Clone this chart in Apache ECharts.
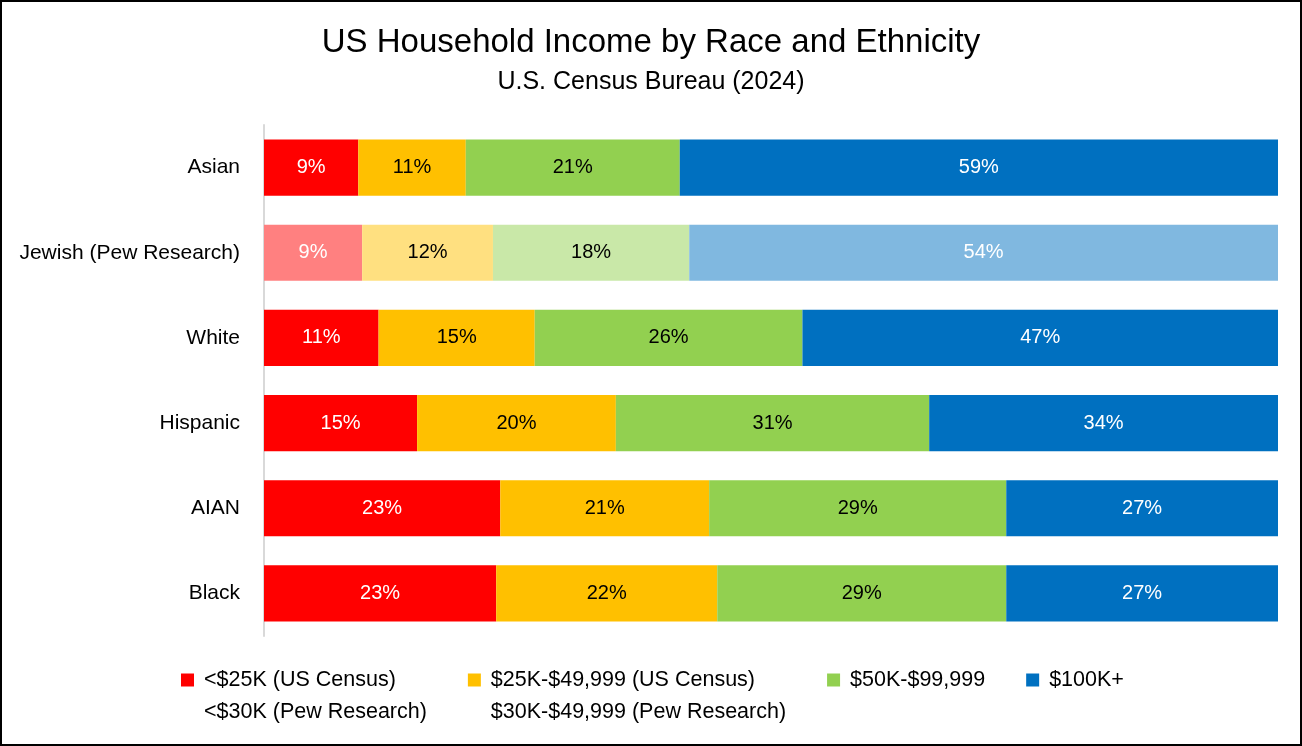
<!DOCTYPE html>
<html>
<head>
<meta charset="utf-8">
<script src="https://cdn.jsdelivr.net/npm/echarts@6/dist/echarts.min.js"></script>
<style>
html,body{margin:0;padding:0;background:#fff;}
#chart{width:1302px;height:746px;}
</style>
</head>
<body>
<div id="chart"></div>
<script>
// Categories (top to bottom)
const categories = ['Asian', 'Jewish (Pew Research)', 'White', 'Hispanic', 'AIAN', 'Black'];
// Series names (legend)
const seriesNames = [
  '<$25K (US Census)\n<$30K (Pew Research)',
  '$25K-$49,999 (US Census)\n$30K-$49,999 (Pew Research)',
  '$50K-$99,999',
  '$100K+'
];
// Values (percent of households) per bracket, in category order
const under25k   = [9.3, 9, 11.3, 15.1, 23.3, 22.9];
const k25to50    = [10.6, 12, 15.4, 19.6, 20.6, 21.8];
const k50to100   = [21.1, 18, 26.4, 30.9, 29.3, 28.5];
const over100k   = [59.0, 54, 46.9, 34.4, 26.8, 26.8];

const baseColors  = ['#FF0000', '#FFC000', '#92D050', '#0070C0'];
const lightColors = ['#FF8080', '#FFE080', '#C9E8A8', '#80B8E0'];
const labelColors = ['#FFFFFF', '#000000', '#000000', '#FFFFFF'];
const lightIndex = 1; // Jewish (Pew Research) row drawn with lighter tints

const FONT = 'Liberation Sans';
const allSeries = [under25k, k25to50, k50to100, over100k];
const totals = categories.map((c, i) => allSeries.reduce((s, arr) => s + arr[i], 0));

const series = allSeries.map((arr, si) => ({
  name: seriesNames[si],
  type: 'bar',
  stack: 'total',
  barWidth: '66%',
  itemStyle: { color: baseColors[si] },
  label: {
    show: true,
    position: 'inside',
    color: labelColors[si],
    fontSize: 20,
    fontFamily: FONT,
    formatter: p => Math.round(p.data.raw) + '%'
  },
  emphasis: { disabled: true },
  data: arr.map((v, i) => ({
    value: v / totals[i] * 100,
    raw: v,
    itemStyle: { color: i === lightIndex ? lightColors[si] : baseColors[si] }
  }))
}));

const chart = echarts.init(document.getElementById('chart'));
chart.setOption({
  animation: false,
  textStyle: { fontFamily: FONT },
  title: {
    text: 'US Household Income by Race and Ethnicity',
    subtext: 'U.S. Census Bureau (2024)',
    left: 'center',
    top: 21,
    itemGap: 11,
    textStyle: { fontSize: 33, fontWeight: 'normal', color: '#000', fontFamily: FONT },
    subtextStyle: { fontSize: 25, color: '#000', fontFamily: FONT }
  },
  grid: { left: 264, right: 24, top: 125, bottom: 110, containLabel: false },
  xAxis: { type: 'value', min: 0, max: 100, show: false },
  yAxis: {
    type: 'category',
    data: categories,
    inverse: true,
    axisLine: { show: true, lineStyle: { color: '#D9D9D9', width: 2 } },
    axisTick: { show: false },
    axisLabel: { fontSize: 21, color: '#000', margin: 24, fontFamily: FONT }
  },
  legend: {
    left: 176,
    top: 627,
    itemWidth: 13,
    itemHeight: 13,
    itemGap: 41,
    icon: 'rect',
    selectedMode: false,
    formatter: name => name.indexOf('\n') >= 0 ? ' \n' + name : name,
    textStyle: { fontSize: 21.5, color: '#000', lineHeight: 32, padding: [0, 0, 0, 5], fontFamily: FONT },
    data: seriesNames
  },
  graphic: [{
    type: 'rect',
    shape: { x: 1, y: 1, width: 1300, height: 744 },
    style: { fill: 'none', stroke: '#000', lineWidth: 2 },
    silent: true,
    z: 100
  }],
  series: series
});
</script>
</body>
</html>
